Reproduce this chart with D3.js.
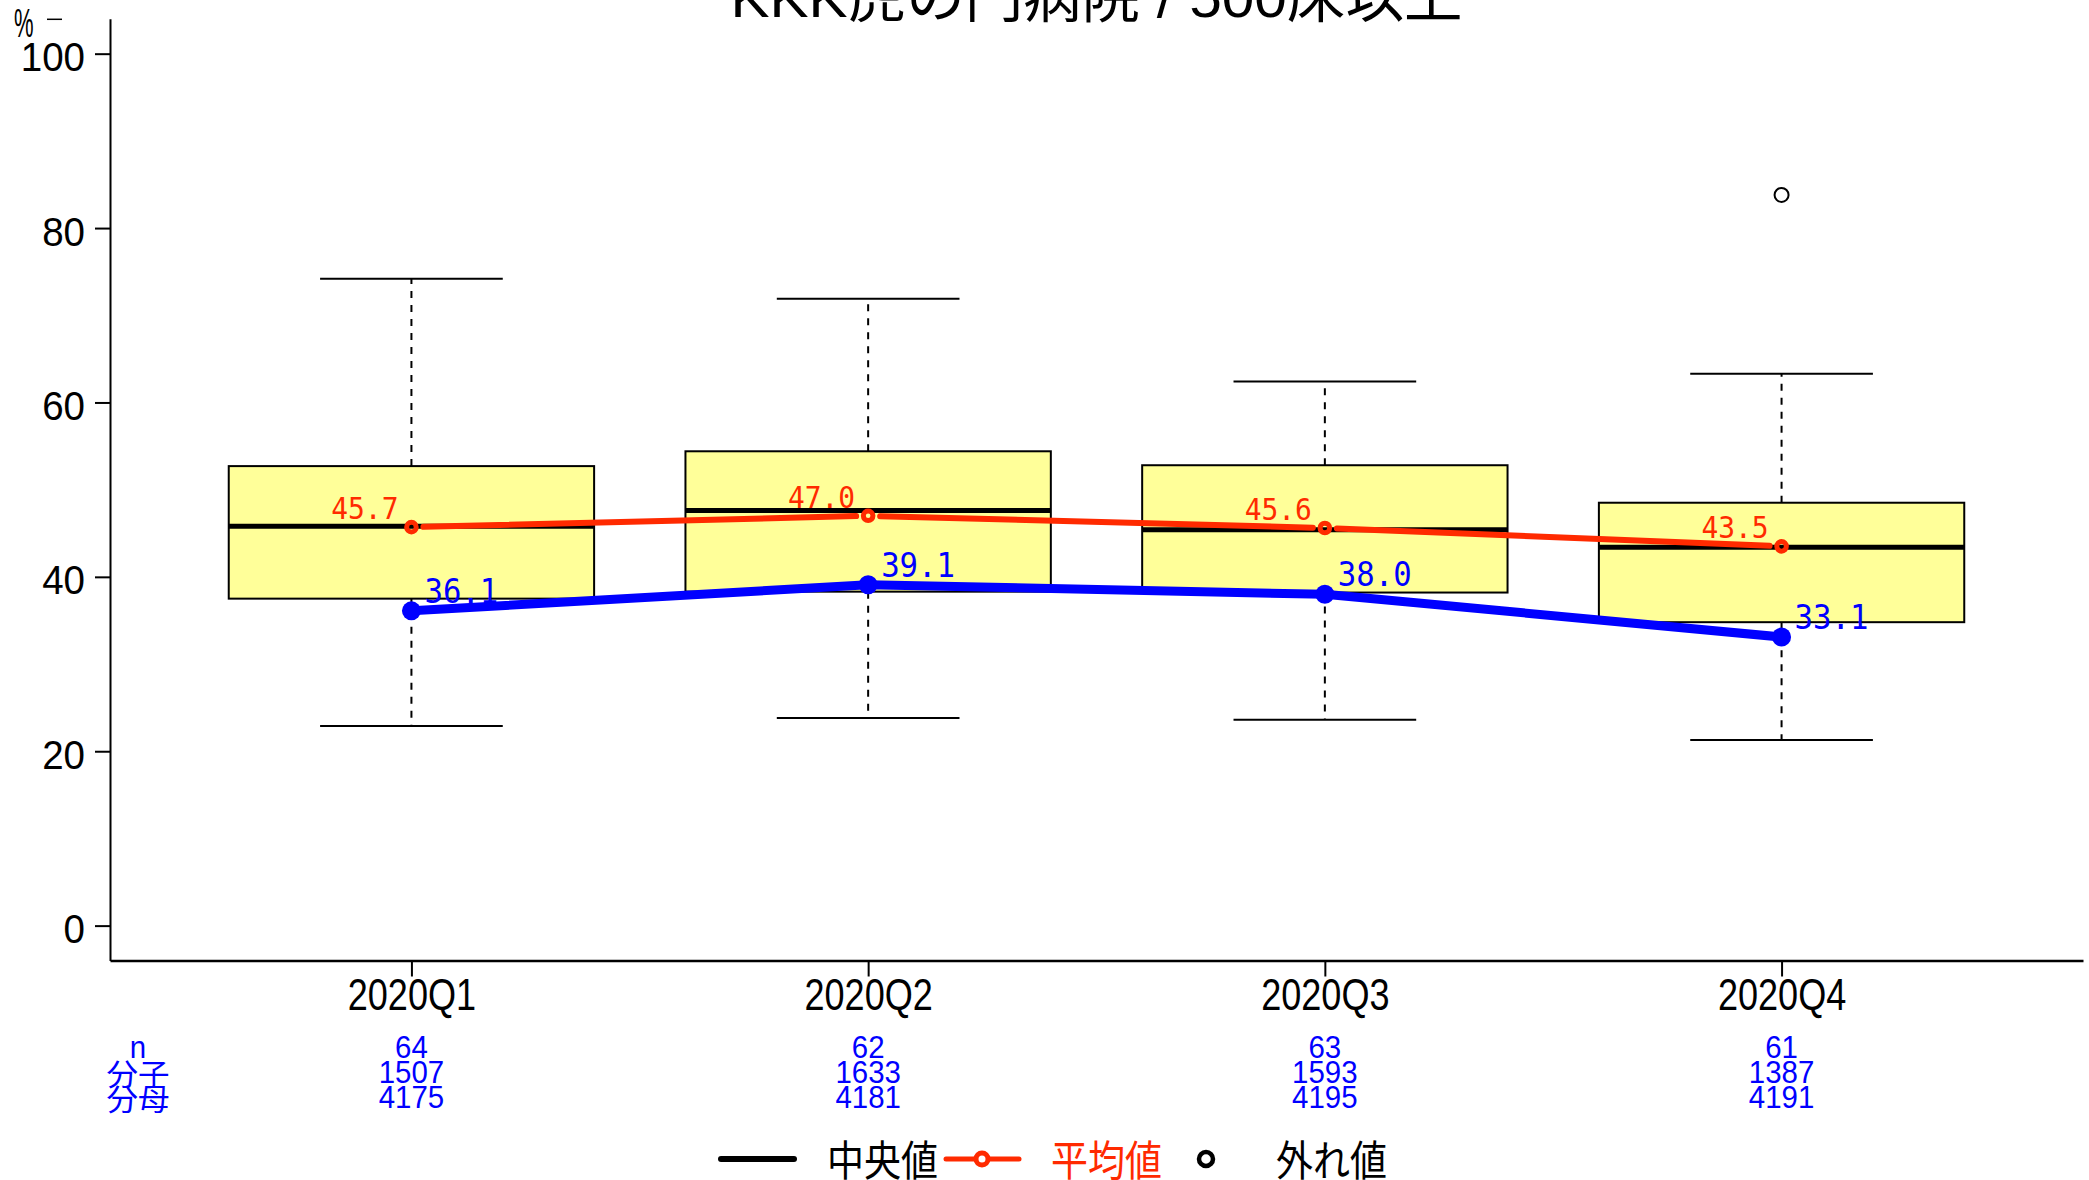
<!DOCTYPE html>
<html><head><meta charset="utf-8">
<script src="https://cdn.jsdelivr.net/npm/d3@7"></script>
<style>body{margin:0;background:#fff} svg{display:block;background:#fff}</style>
</head><body>
<svg id="c" width="2089" height="1180"></svg>
<script>
// ---------- data ----------
const categories = ["2020Q1", "2020Q2", "2020Q3", "2020Q4"];
const whiskerLow  = [22.9, 23.8, 23.6, 21.3];
const q1Values    = [37.5, 38.3, 38.2, 34.8];
const medians     = [45.8, 47.6, 45.4, 43.4];
const q3Values    = [52.7, 54.4, 52.8, 48.5];
const whiskerHigh = [74.2, 71.9, 62.4, 63.3];
const outliers    = [[], [], [], [83.8]];
const meanValues  = [45.7, 47.0, 45.6, 43.5];
const overallValues = [36.1, 39.1, 38.0, 33.1];
const nValues     = [64, 62, 63, 61];
const numerators  = [1507, 1633, 1593, 1387];
const denominators = [4175, 4181, 4195, 4191];
const yTicks = [0, 20, 40, 60, 80, 100];
const tableLabels = ["n", "分子", "分母"];
const legendLabels = ["中央値", "平均値", "外れ値"];
const titleText = "KKK虎の門病院 / 500床以上";
const yUnit = "%";

// ---------- setup ----------
const svg = d3.select("#c");
const SANS = "'Liberation Sans', Arial, 'Noto Sans CJK JP', sans-serif";
const CJK = "'Noto Sans CJK JP', 'Liberation Sans', sans-serif";
const MONO = "'DejaVu Sans Mono', 'Liberation Mono', monospace";
const RED = "#ff2a00", BLUE = "#0000ff";

const x = d3.scaleLinear().domain([0.34, 4.66]).range([110, 2083]);
const y = d3.scaleLinear().domain([-4, 104]).range([960.5, 18.8]);
const idx = categories.map((c, i) => i + 1);
const boxHalf = (x(1.4) - x(1));      // boxwex 0.8
const capHalf = (x(1.2) - x(1));      // staple 0.4

function txt(g, str, px, py, o) {
  return g.append("text")
    .attr("transform", `translate(${px},${py}) scale(${o.sx || 1},1)`)
    .attr("text-anchor", o.anchor || "start")
    .attr("font-family", o.family || SANS)
    .attr("font-size", o.size)
    .attr("fill", o.fill || "#000")
    .text(str);
}

// ---------- title ----------
svg.append("text")
  .attr("x", (x.range()[0] + x.range()[1]) / 2).attr("y", 17)
  .attr("text-anchor", "middle")
  .attr("font-family", SANS).attr("font-size", 56)
  .attr("textLength", 732).attr("lengthAdjust", "spacingAndGlyphs")
  .text(titleText);

// ---------- boxes ----------
const gBox = svg.append("g");
idx.forEach((xi, i) => {
  const cx = x(xi);
  gBox.append("line").attr("x1", cx).attr("x2", cx)
    .attr("y1", y(q3Values[i])).attr("y2", y(whiskerHigh[i]))
    .attr("stroke", "#000").attr("stroke-width", 2).attr("stroke-dasharray", "7,7");
  gBox.append("line").attr("x1", cx).attr("x2", cx)
    .attr("y1", y(q1Values[i])).attr("y2", y(whiskerLow[i]))
    .attr("stroke", "#000").attr("stroke-width", 2).attr("stroke-dasharray", "7,7");
  [whiskerHigh[i], whiskerLow[i]].forEach(v => {
    gBox.append("line").attr("x1", cx - capHalf).attr("x2", cx + capHalf)
      .attr("y1", y(v)).attr("y2", y(v)).attr("stroke", "#000").attr("stroke-width", 2);
  });
  gBox.append("rect").attr("x", cx - boxHalf).attr("width", 2 * boxHalf)
    .attr("y", y(q3Values[i])).attr("height", y(q1Values[i]) - y(q3Values[i]))
    .attr("fill", "#ffff99").attr("stroke", "#000").attr("stroke-width", 2);
  gBox.append("line").attr("x1", cx - boxHalf).attr("x2", cx + boxHalf)
    .attr("y1", y(medians[i])).attr("y2", y(medians[i]))
    .attr("stroke", "#000").attr("stroke-width", 5);
  outliers[i].forEach(v => {
    gBox.append("circle").attr("cx", cx).attr("cy", y(v)).attr("r", 7)
      .attr("fill", "none").attr("stroke", "#000").attr("stroke-width", 2);
  });
});

// ---------- overall (blue) line ----------
const gBlue = svg.append("g");
gBlue.append("path")
  .attr("d", d3.line().x((d, i) => x(idx[i])).y(d => y(d))(overallValues))
  .attr("fill", "none").attr("stroke", BLUE).attr("stroke-width", 9).attr("stroke-linejoin", "round");
overallValues.forEach((v, i) => {
  gBlue.append("circle").attr("cx", x(idx[i])).attr("cy", y(v)).attr("r", 9.5).attr("fill", BLUE);
  txt(gBlue, v.toFixed(1), x(idx[i]) + 13, y(v) - 8, {size: 33, sx: 0.93, family: MONO, fill: BLUE});
});

// ---------- mean (red) line, type "b" ----------
const gRed = svg.append("g");
const gap = 12;
for (let i = 0; i < meanValues.length - 1; i++) {
  const x0 = x(idx[i]), y0 = y(meanValues[i]), x1 = x(idx[i + 1]), y1 = y(meanValues[i + 1]);
  const L = Math.hypot(x1 - x0, y1 - y0), ux = (x1 - x0) / L, uy = (y1 - y0) / L;
  gRed.append("line")
    .attr("x1", x0 + ux * gap).attr("y1", y0 + uy * gap)
    .attr("x2", x1 - ux * gap).attr("y2", y1 - uy * gap)
    .attr("stroke", RED).attr("stroke-width", 6).attr("stroke-linecap", "round");
}
meanValues.forEach((v, i) => {
  gRed.append("circle").attr("cx", x(idx[i])).attr("cy", y(v)).attr("r", 4.8)
    .attr("fill", "none").attr("stroke", RED).attr("stroke-width", 5);
  txt(gRed, v.toFixed(1), x(idx[i]) - 13, y(v) - 8, {size: 31, sx: 0.9, family: MONO, fill: RED, anchor: "end"});
});

// ---------- axes ----------
const gy = svg.append("g").attr("transform", `translate(${x.range()[0]},0)`)
  .call(d3.axisLeft(y).tickValues(yTicks).tickSize(15).tickSizeOuter(0));
gy.select(".domain").attr("stroke-width", 2);
gy.selectAll(".tick line").attr("stroke-width", 2);
gy.selectAll(".tick text").attr("x", null).attr("dy", null)
  .attr("transform", "translate(-25,17) scale(0.94,1)")
  .attr("font-family", SANS).attr("font-size", 41).attr("fill", "#000");

const gx = svg.append("g").attr("transform", `translate(0,${y.range()[0]})`)
  .call(d3.axisBottom(x).tickValues(idx).tickFormat((d, i) => categories[i]).tickSize(16).tickSizeOuter(0));
gx.select(".domain").attr("stroke-width", 2.5);
gx.selectAll(".tick line").attr("stroke-width", 2);
gx.selectAll(".tick text").attr("y", null).attr("dy", null)
  .attr("transform", "translate(0,49) scale(0.82,1)")
  .attr("font-family", SANS).attr("font-size", 44).attr("fill", "#000");

// y unit label
txt(svg, yUnit, 14, 37, {size: 40, sx: 0.55});
svg.append("line").attr("x1", 47).attr("x2", 62).attr("y1", 19.3).attr("y2", 19.3)
  .attr("stroke", "#000").attr("stroke-width", 1.5);

// ---------- table under axis ----------
const gT = svg.append("g");
const rowY = [1058, 1083, 1108];
tableLabels.forEach((t, r) => {
  txt(gT, t, 138, rowY[r] + (r ? 2 : 0), {size: r ? 30 : 31, sx: r ? 1.05 : 0.95, anchor: "middle", fill: BLUE, family: r ? CJK : SANS});
});
const rows = [nValues, numerators, denominators];
rows.forEach((arr, r) => {
  arr.forEach((v, i) => {
    txt(gT, String(v), x(idx[i]), rowY[r], {size: 31, sx: 0.95, anchor: "middle", fill: BLUE});
  });
});

// ---------- legend ----------
const gL = svg.append("g");
const ly = 1159;
gL.append("line").attr("x1", 721).attr("x2", 794).attr("y1", ly).attr("y2", ly)
  .attr("stroke", "#000").attr("stroke-width", 6).attr("stroke-linecap", "round");
txt(gL, legendLabels[0], 827, 1176, {size: 42, sx: 0.88, family: CJK});
gL.append("line").attr("x1", 946).attr("x2", 1019).attr("y1", ly).attr("y2", ly)
  .attr("stroke", RED).attr("stroke-width", 5).attr("stroke-linecap", "round");
gL.append("circle").attr("cx", 982).attr("cy", ly).attr("r", 6)
  .attr("fill", "#fff").attr("stroke", RED).attr("stroke-width", 5);
txt(gL, legendLabels[1], 1051, 1176, {size: 42, sx: 0.88, family: CJK, fill: RED});
gL.append("circle").attr("cx", 1206).attr("cy", ly).attr("r", 7)
  .attr("fill", "#fff").attr("stroke", "#000").attr("stroke-width", 4.5);
txt(gL, legendLabels[2], 1276, 1176, {size: 42, sx: 0.88, family: CJK});
</script>
</body></html>
